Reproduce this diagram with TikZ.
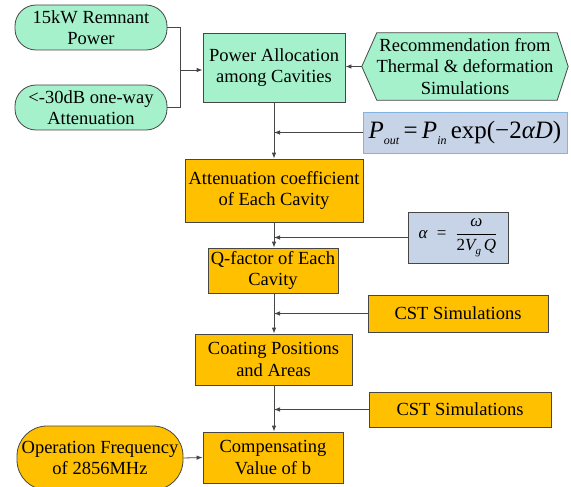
\documentclass[tikz,border=0pt]{standalone}
\usepackage{fontspec}
\setmainfont{Liberation Serif}
\usetikzlibrary{arrows.meta,backgrounds}
\definecolor{mint}{RGB}{164,241,203}
\definecolor{amber}{RGB}{255,192,0}
\definecolor{formfill}{RGB}{199,212,231}
\definecolor{formedge}{RGB}{130,180,225}
\definecolor{edge}{RGB}{70,70,70}
\tikzset{
  txt/.style={align=center, font=\fontsize{18.5}{21.5}\selectfont},
  base/.style={txt, draw=edge, line width=0.8pt, inner sep=2pt},
  greenbox/.style={base, fill=mint},
  orangebox/.style={base, fill=amber},
  pill/.style={rounded corners=21pt},
  formbox/.style={base, fill=formfill},
  conn/.style={draw=edge, line width=0.8pt},
  arr/.style={conn, -{Latex[length=6pt,width=4.5pt]}},
}
\begin{document}
\begin{tikzpicture}[x=1pt,y=-1pt]
\useasboundingbox (0,0) rectangle (571,487);
% top row
\node[greenbox,pill,minimum width=152pt,minimum height=45pt] (n1) at (91,27.5) {15kW Remnant\\Power};
\node[greenbox,pill,minimum width=152pt,minimum height=45pt] (n2) at (91,107.5) {<-30dB one-way\\Attenuation};
\node[greenbox,minimum width=142pt,minimum height=69pt] (pa) at (274,67.5) {Power Allocation\\among Cavities};
\node[txt,inner sep=0pt,minimum width=206pt,minimum height=67pt] (hex) at (465,66.5) {Recommendation from\\Thermal \& deformation\\Simulations};
\begin{scope}[on background layer]
\filldraw[fill=mint,draw=edge,line width=0.8pt]
  ([xshift=15pt]hex.north west) -- ([xshift=-11pt]hex.north east) -- (hex.east)
  -- ([xshift=-11pt]hex.south east) -- ([xshift=15pt]hex.south west) -- (hex.west) -- cycle;
\end{scope}
% formula 1
\node[formbox,draw=formedge,minimum width=204pt,minimum height=41pt,font=\fontsize{25}{28}\selectfont] (f1) at (465,132.5)
  {\textit{P}\raisebox{-6pt}{\fontsize{12}{12}\selectfont\textit{out}}\,=\,\textit{P}\raisebox{-6pt}{\fontsize{12}{12}\selectfont\textit{in}}\,exp(−2\textit{αD})};
% main chain
\node[orangebox,minimum width=178pt,minimum height=63pt] (att) at (274,190.5) {Attenuation coefficient\\of Each Cavity};
\node[formbox,minimum width=100pt,minimum height=51pt,font=\fontsize{17}{19}\selectfont] (f2) at (458,237.5)
  {\textit{α}\; =\; $\displaystyle\frac{\mbox{\itshape ω}}{\mbox{2\itshape V\raisebox{-4pt}{\fontsize{11}{11}\selectfont g}\,Q}}$};
\node[orangebox,minimum width=130pt,minimum height=45pt] (q) at (273,270.5) {Q-factor of Each\\Cavity};
\node[orangebox,minimum width=180pt,minimum height=37pt] (cst1) at (458,313.5) {CST Simulations};
\node[orangebox,minimum width=157pt,minimum height=51pt] (coat) at (273.5,359.5) {Coating Positions\\and Areas};
\node[orangebox,minimum width=182pt,minimum height=35pt] (cst2) at (460,409.5) {CST Simulations};
\node[orangebox,minimum width=140pt,minimum height=51pt] (comp) at (273,457.5) {Compensating\\Value of b};
\node[orangebox,rounded corners=30pt,minimum width=166pt,minimum height=64pt] (op) at (100,458) {Operation Frequency\\of 2856MHz};
% junction for the two inputs
\coordinate (j) at (180,70);
\draw[conn] (n1.east) -| (j);
\draw[conn] (n2.east) -| (j);
\draw[arr] (j) -- (j -| pa.west);
\draw[arr] (hex.west) -- (hex.west -| pa.east);
% main vertical line
\coordinate (x0) at (274,0);
\draw[arr] (pa.south) -- (x0 |- att.north);
\coordinate (m1) at (x0 |- f1.west);
\draw[arr] (f1.west) -- (m1);
\draw[arr] (x0 |- att.south) -- (x0 |- q.north);
\coordinate (m2) at (x0 |- f2.west);
\draw[arr] (f2.west) -- (m2);
\draw[arr] (x0 |- q.south) -- (x0 |- coat.north);
\coordinate (m3) at (x0 |- cst1.west);
\draw[arr] (cst1.west) -- (m3);
\draw[arr] (x0 |- coat.south) -- (x0 |- comp.north);
\coordinate (m4) at (x0 |- cst2.west);
\draw[arr] (cst2.west) -- (m4);
\draw[arr] (op.east) -- (comp.west);
\end{tikzpicture}
\end{document}
